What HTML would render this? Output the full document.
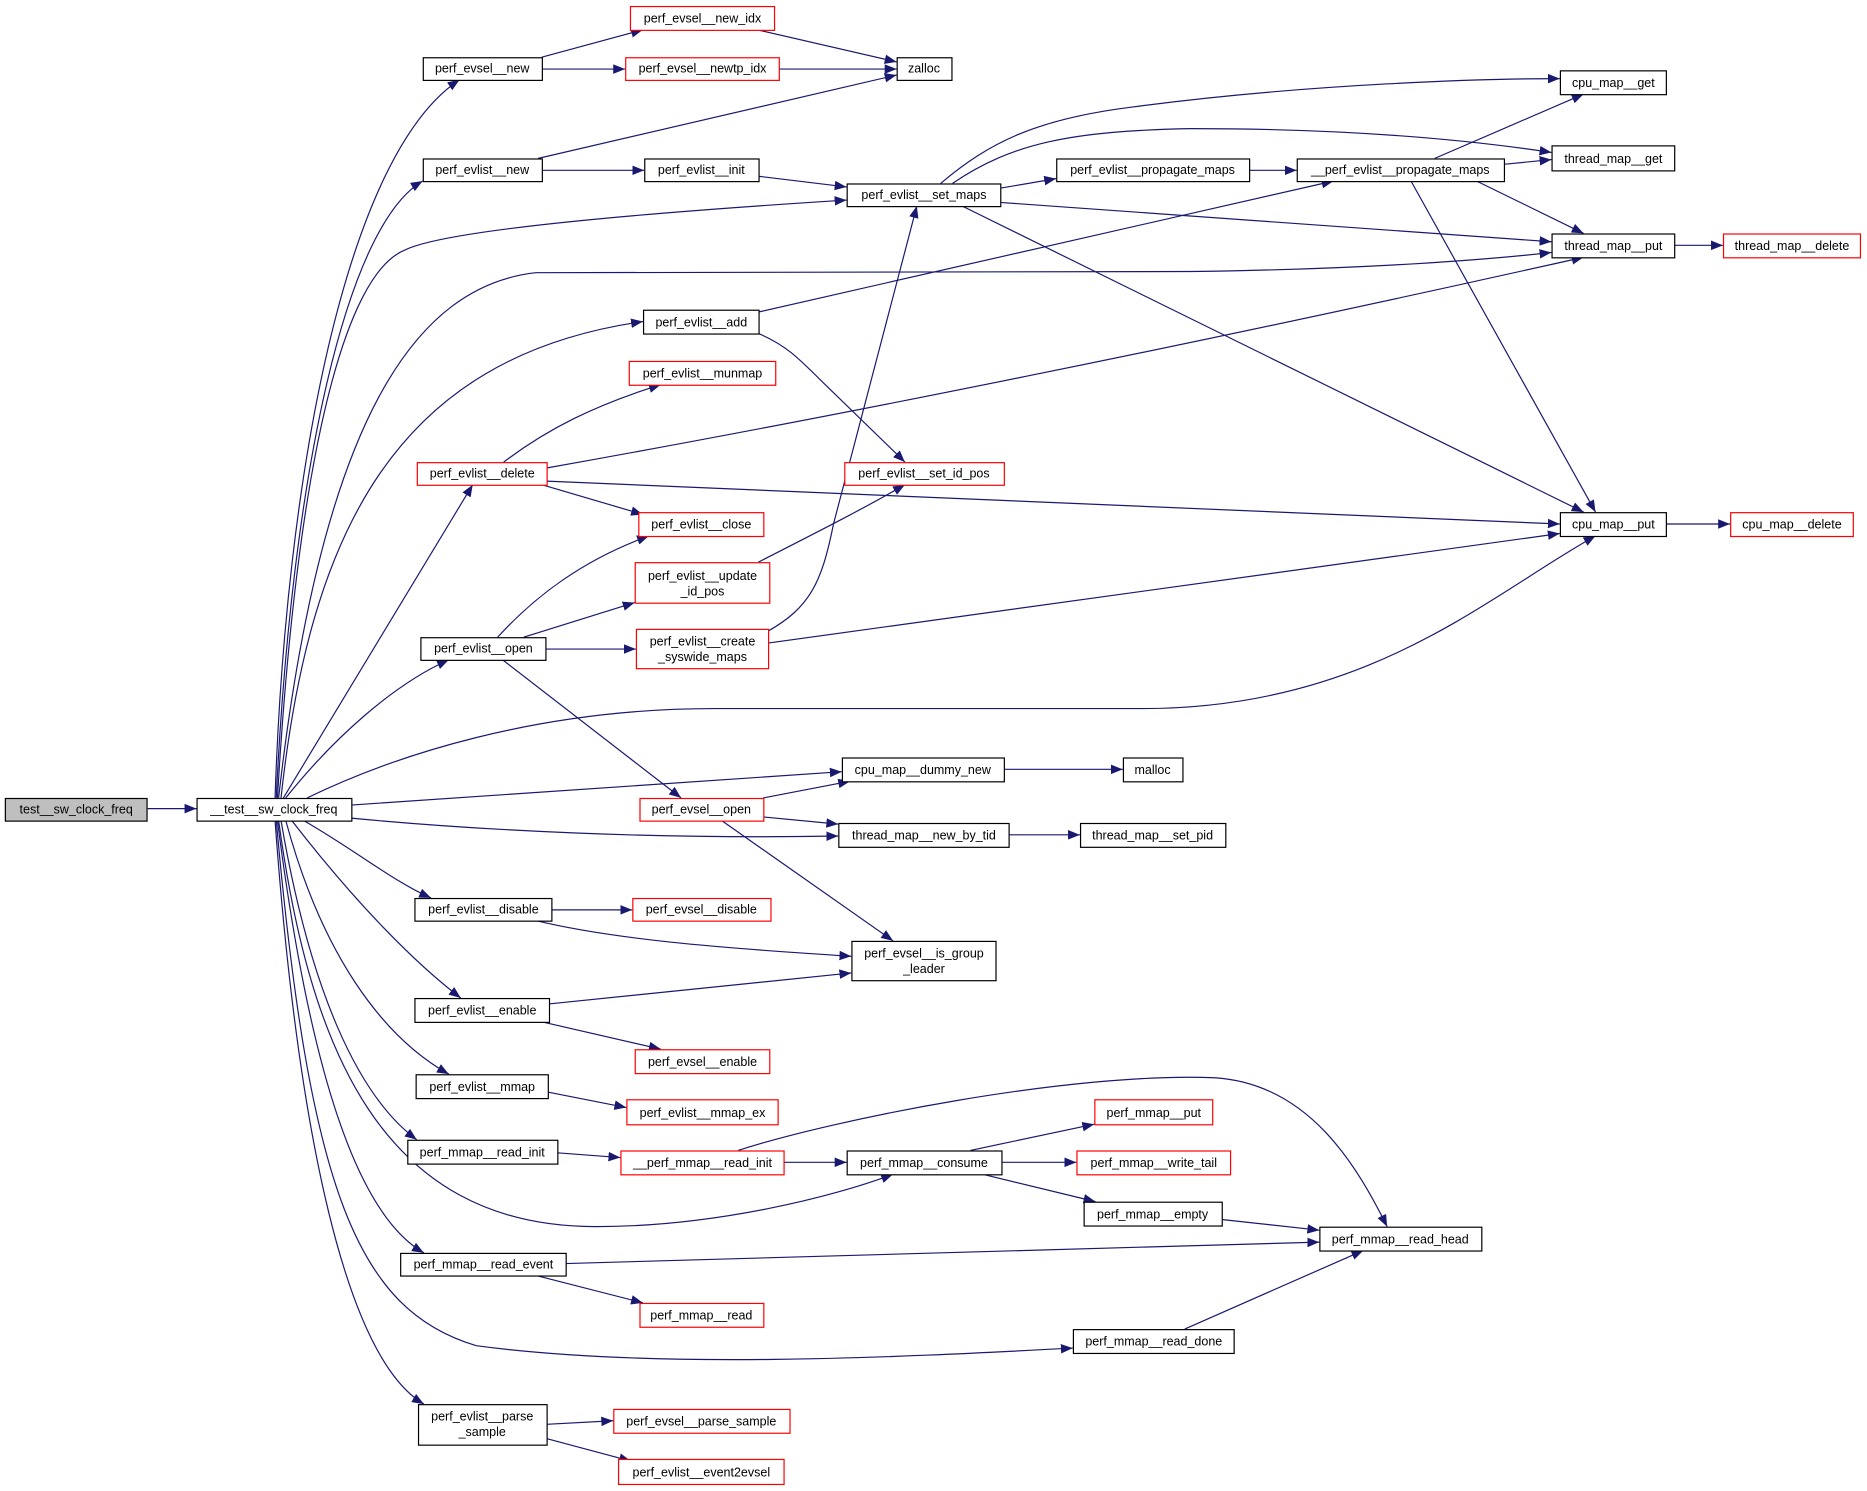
<!DOCTYPE html>
<html><head><meta charset="utf-8"><style>
html,body{margin:0;padding:0;background:#fff;}
svg{display:block;}
text{font-family:"Liberation Sans",Arial,sans-serif;font-size:10.5px;text-anchor:middle;fill:#000;}
.e{fill:none;stroke:#191970;stroke-width:1;marker-end:url(#a);}
.n{fill:#fff;stroke:#000;stroke-width:1;}
.r{fill:#fff;stroke:#ff0000;stroke-width:1;}
</style></head><body>
<svg width="1867" height="1491" viewBox="0 0 1568 1252" preserveAspectRatio="none" xmlns="http://www.w3.org/2000/svg">
<defs><marker id="a" markerUnits="userSpaceOnUse" markerWidth="10" markerHeight="8" refX="10" refY="4" orient="auto"><path d="M0,0 L10,4 L0,8 z" fill="#191970"/></marker></defs>
<g>
<path class="e" d="M124,679 L165,679"/>
<path class="e" d="M231,670 C240,400 290,130 386,67"/>
<path class="e" d="M232,670 C245,400 290,190 355,152"/>
<path class="e" d="M233,670 C250,380 290,230 340,210 C380,190 600,175 711,168"/>
<path class="e" d="M234,670 C270,350 350,240 450,229 L1000,228 C1150,226 1250,218 1303,212"/>
<path class="e" d="M236,670 C260,450 330,300 540,270"/>
<path class="e" d="M238,670 L397,407"/>
<path class="e" d="M240,670 C280,620 330,575 377,554"/>
<path class="e" d="M258,670 C330,635 450,595 600,595 L960,595 C1150,595 1250,500 1340,450"/>
<path class="e" d="M295,676 L707,648"/>
<path class="e" d="M295,687 C400,697 550,705 704,702"/>
<path class="e" d="M255,689 C300,715 330,740 362,754"/>
<path class="e" d="M245,689 C300,760 350,810 387,838"/>
<path class="e" d="M240,689 C270,800 320,870 377,902"/>
<path class="e" d="M236,689 C260,830 300,920 350,957"/>
<path class="e" d="M234,689 C260,880 320,1030 500,1030 C600,1030 700,1005 750,986"/>
<path class="e" d="M233,689 C260,900 300,1020 356,1052"/>
<path class="e" d="M232,689 C260,1000 300,1100 400,1130 C550,1150 750,1140 901,1132"/>
<path class="e" d="M231,689 C250,950 290,1140 356,1179"/>
<path class="e" d="M455,48 L540,25"/>
<path class="e" d="M455,58 L525,58"/>
<path class="e" d="M636,25 L753,52"/>
<path class="e" d="M654,58 L753,58"/>
<path class="e" d="M452,133 L753,63"/>
<path class="e" d="M455,143 L541,143"/>
<path class="e" d="M637,148 L711,157"/>
<path class="e" d="M840,158 L887,150"/>
<path class="e" d="M1049,143 L1089,143"/>
<path class="e" d="M790,154 C830,120 870,100 950,90 C1100,70 1250,66 1310,66"/>
<path class="e" d="M800,154 C850,120 900,110 1000,108 C1150,108 1250,120 1303,128"/>
<path class="e" d="M840,170 L1303,203"/>
<path class="e" d="M808,173 L1330,430"/>
<path class="e" d="M1205,133 L1330,79"/>
<path class="e" d="M1263,138 L1303,134"/>
<path class="e" d="M1240,152 L1330,196"/>
<path class="e" d="M1185,152 L1340,430"/>
<path class="e" d="M1406,206 L1447,206"/>
<path class="e" d="M1399,440 L1453,440"/>
<path class="e" d="M637,262 L1120,152"/>
<path class="e" d="M637,280 C660,290 670,300 690,320 L760,388"/>
<path class="e" d="M423,388 C460,360 500,340 555,323"/>
<path class="e" d="M459,393 C700,350 1000,290 1330,216"/>
<path class="e" d="M459,404 L1310,440"/>
<path class="e" d="M455,407 L540,432"/>
<path class="e" d="M418,535 C450,500 490,470 545,450"/>
<path class="e" d="M440,535 L533,506"/>
<path class="e" d="M458,545 L534,545"/>
<path class="e" d="M422,554 L572,670"/>
<path class="e" d="M637,472 C680,450 720,430 760,407"/>
<path class="e" d="M645,530 C680,510 690,490 700,440 L770,173"/>
<path class="e" d="M645,540 L1310,448"/>
<path class="e" d="M843,646 L943,646"/>
<path class="e" d="M641,670 L714,656"/>
<path class="e" d="M641,686 L704,692"/>
<path class="e" d="M606,689 L750,790"/>
<path class="e" d="M847,701 L907,701"/>
<path class="e" d="M463,764 L531,764"/>
<path class="e" d="M450,773 C520,790 620,797 715,803"/>
<path class="e" d="M461,843 L715,817"/>
<path class="e" d="M455,858 L555,881"/>
<path class="e" d="M460,917 L526,930"/>
<path class="e" d="M468,968 L521,972"/>
<path class="e" d="M620,966 C700,940 900,900 1020,905 C1100,910 1140,980 1165,1030"/>
<path class="e" d="M658,976 L711,976"/>
<path class="e" d="M815,966 L919,944"/>
<path class="e" d="M841,976 L904,976"/>
<path class="e" d="M825,986 L920,1009"/>
<path class="e" d="M1026,1024 L1108,1033"/>
<path class="e" d="M475,1061 L1108,1043"/>
<path class="e" d="M450,1071 L540,1094"/>
<path class="e" d="M995,1116 L1145,1050"/>
<path class="e" d="M459,1196 L515,1193"/>
<path class="e" d="M459,1208 L530,1227"/>
</g>
<g>
<rect x="4.5" y="670.5" width="119" height="19" fill="#bfbfbf" stroke="#000"/><text x="64" y="683">test__sw_clock_freq</text>
<rect class="n" x="165.5" y="670.5" width="130" height="19"/><text x="230" y="683">__test__sw_clock_freq</text>
<rect class="n" x="355.5" y="48.5" width="100" height="19"/><text x="405" y="61">perf_evsel__new</text>
<rect class="r" x="529.5" y="5.5" width="121" height="20"/><text x="590" y="19">perf_evsel__new_idx</text>
<rect class="r" x="525.5" y="48.5" width="129" height="19"/><text x="590" y="61">perf_evsel__newtp_idx</text>
<rect class="n" x="753.5" y="48.5" width="46" height="19"/><text x="776" y="61">zalloc</text>
<rect class="n" x="355.5" y="133.5" width="100" height="19"/><text x="405" y="146">perf_evlist__new</text>
<rect class="n" x="541.5" y="133.5" width="96" height="19"/><text x="589" y="146">perf_evlist__init</text>
<rect class="n" x="711.5" y="154.5" width="129" height="19"/><text x="776" y="167">perf_evlist__set_maps</text>
<rect class="n" x="887.5" y="133.5" width="162" height="19"/><text x="968" y="146">perf_evlist__propagate_maps</text>
<rect class="n" x="1089.5" y="133.5" width="174" height="19"/><text x="1176" y="146">__perf_evlist__propagate_maps</text>
<rect class="n" x="1310.5" y="59.5" width="89" height="20"/><text x="1355" y="73">cpu_map__get</text>
<rect class="n" x="1303.5" y="122.5" width="103" height="21"/><text x="1355" y="137">thread_map__get</text>
<rect class="n" x="1303.5" y="196.5" width="103" height="20"/><text x="1355" y="210">thread_map__put</text>
<rect class="r" x="1447.5" y="196.5" width="115" height="20"/><text x="1505" y="210">thread_map__delete</text>
<rect class="n" x="540.5" y="260.5" width="97" height="20"/><text x="589" y="274">perf_evlist__add</text>
<rect class="r" x="528.5" y="303.5" width="123" height="20"/><text x="590" y="317">perf_evlist__munmap</text>
<rect class="r" x="350.5" y="388.5" width="109" height="19"/><text x="405" y="401">perf_evlist__delete</text>
<rect class="r" x="709.5" y="388.5" width="134" height="19"/><text x="776" y="401">perf_evlist__set_id_pos</text>
<rect class="r" x="536.5" y="430.5" width="105" height="20"/><text x="589" y="444">perf_evlist__close</text>
<rect class="n" x="1310.5" y="430.5" width="89" height="20"/><text x="1355" y="444">cpu_map__put</text>
<rect class="r" x="1453.5" y="430.5" width="103" height="20"/><text x="1505" y="444">cpu_map__delete</text>
<rect class="r" x="533.5" y="472.5" width="113" height="34"/><text x="590" y="487">perf_evlist__update</text><text x="590" y="500">_id_pos</text>
<rect class="n" x="353.5" y="535.5" width="105" height="19"/><text x="406" y="548">perf_evlist__open</text>
<rect class="r" x="534.5" y="528.5" width="111" height="33"/><text x="590" y="542">perf_evlist__create</text><text x="590" y="555">_syswide_maps</text>
<rect class="n" x="707.5" y="636.5" width="136" height="20"/><text x="775" y="650">cpu_map__dummy_new</text>
<rect class="n" x="943.5" y="636.5" width="50" height="20"/><text x="968" y="650">malloc</text>
<rect class="r" x="537.5" y="670.5" width="104" height="19"/><text x="589" y="683">perf_evsel__open</text>
<rect class="n" x="704.5" y="691.5" width="143" height="20"/><text x="776" y="705">thread_map__new_by_tid</text>
<rect class="n" x="907.5" y="691.5" width="122" height="20"/><text x="968" y="705">thread_map__set_pid</text>
<rect class="n" x="348.5" y="754.5" width="115" height="19"/><text x="406" y="767">perf_evlist__disable</text>
<rect class="r" x="531.5" y="754.5" width="116" height="19"/><text x="589" y="767">perf_evsel__disable</text>
<rect class="n" x="715.5" y="790.5" width="121" height="33"/><text x="776" y="804">perf_evsel__is_group</text><text x="776" y="817">_leader</text>
<rect class="n" x="348.5" y="838.5" width="113" height="20"/><text x="405" y="852">perf_evlist__enable</text>
<rect class="r" x="533.5" y="881.5" width="113" height="20"/><text x="590" y="895">perf_evsel__enable</text>
<rect class="n" x="349.5" y="902.5" width="111" height="20"/><text x="405" y="916">perf_evlist__mmap</text>
<rect class="r" x="526.5" y="923.5" width="127" height="21"/><text x="590" y="938">perf_evlist__mmap_ex</text>
<rect class="r" x="919.5" y="923.5" width="99" height="21"/><text x="969" y="938">perf_mmap__put</text>
<rect class="n" x="342.5" y="957.5" width="126" height="20"/><text x="405" y="971">perf_mmap__read_init</text>
<rect class="r" x="521.5" y="966.5" width="137" height="20"/><text x="590" y="980">__perf_mmap__read_init</text>
<rect class="n" x="711.5" y="966.5" width="130" height="20"/><text x="776" y="980">perf_mmap__consume</text>
<rect class="r" x="904.5" y="966.5" width="129" height="20"/><text x="969" y="980">perf_mmap__write_tail</text>
<rect class="n" x="910.5" y="1009.5" width="116" height="20"/><text x="968" y="1023">perf_mmap__empty</text>
<rect class="n" x="1108.5" y="1030.5" width="136" height="20"/><text x="1176" y="1044">perf_mmap__read_head</text>
<rect class="n" x="336.5" y="1052.5" width="139" height="19"/><text x="406" y="1065">perf_mmap__read_event</text>
<rect class="r" x="537.5" y="1094.5" width="104" height="20"/><text x="589" y="1108">perf_mmap__read</text>
<rect class="n" x="901.5" y="1116.5" width="135" height="20"/><text x="969" y="1130">perf_mmap__read_done</text>
<rect class="n" x="351.5" y="1179.5" width="108" height="34"/><text x="405" y="1193">perf_evlist__parse</text><text x="405" y="1206">_sample</text>
<rect class="r" x="515.5" y="1183.5" width="148" height="20"/><text x="589" y="1197">perf_evsel__parse_sample</text>
<rect class="r" x="519.5" y="1225.5" width="139" height="21"/><text x="589" y="1240">perf_evlist__event2evsel</text>
</g>
</svg>
</body></html>
